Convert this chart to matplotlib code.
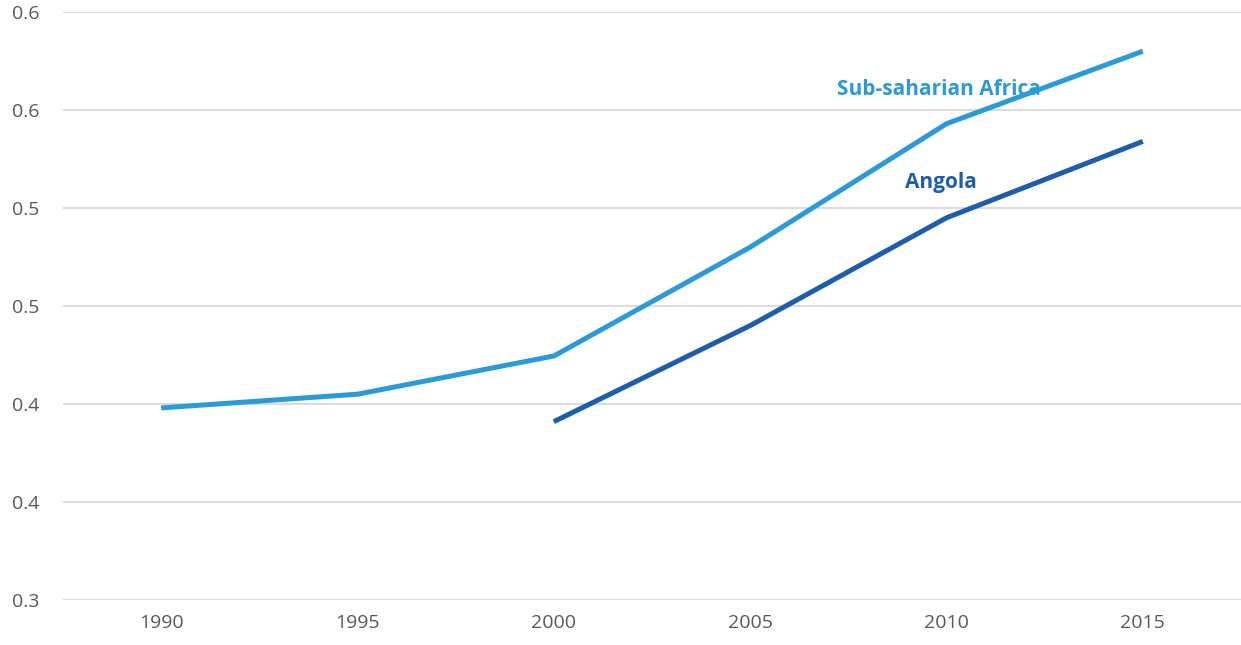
import matplotlib
matplotlib.use("Agg")
import matplotlib.pyplot as plt

years = ["1990", "1995", "2000", "2005", "2010", "2015"]
ssa = [0.398, 0.405, 0.4245, 0.480, 0.543, 0.580]
angola = [None, None, 0.391, 0.440, 0.495, 0.534]
yticks = [0.30, 0.35, 0.40, 0.45, 0.50, 0.55, 0.60]
ytick_labels = ["0.3", "0.4", "0.4", "0.5", "0.5", "0.6", "0.6"]

C_SSA = "#2A9BD8"
C_ANG = "#1C5DAD"
GRAY = "#595959"

plt.rcParams["font.family"] = ["Open Sans", "DejaVu Sans"]

fig = plt.figure(figsize=(12.41, 6.45), dpi=100)
ax = fig.add_axes([63 / 1241, 1 - 600 / 645, 1 - 63 / 1241, (600 - 12) / 645])

x = list(range(len(years)))
ax.plot(x, ssa, color=C_SSA, lw=3.6, solid_capstyle="butt", zorder=3)
ang_x = [i for i, v in zip(x, angola) if v is not None]
ang_y = [v for v in angola if v is not None]
ax.plot(ang_x, ang_y, color=C_ANG, lw=3.6, solid_capstyle="butt", zorder=3)

# series labels sit under the lines, as in the original
ax.text(3.44, 0.5607, "Sub-saharian Africa", color=C_SSA, fontsize=15,
        fontweight="bold", ha="left", va="center", zorder=2)
ax.text(3.79, 0.5128, "Angola", color=C_ANG, fontsize=15,
        fontweight="bold", ha="left", va="center", zorder=2)

ax.set_xlim(-0.5, 5.5)
ax.set_ylim(0.30, 0.60)
ax.set_xticks(x)
ax.set_xticklabels(years)
ax.set_yticks(yticks)
ax.set_yticklabels(ytick_labels)
ax.tick_params(length=0, labelsize=14, colors=GRAY, pad=10)
ax.tick_params(axis="y", pad=17)
ax.yaxis.grid(True, color="#D9D9D9", lw=1.3)
ax.set_axisbelow(True)
for s in ax.spines.values():
    s.set_visible(False)
ax.patch.set_alpha(0)

fig.savefig("out.png", dpi=100)
